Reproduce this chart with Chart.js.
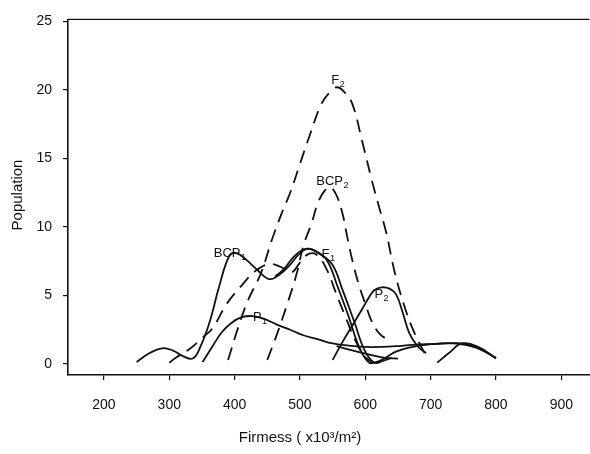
<!DOCTYPE html>
<html>
<head>
<meta charset="utf-8">
<script src="https://cdn.jsdelivr.net/npm/chart.js@4/dist/chart.umd.min.js"></script>
<style>
  html, body { margin: 0; padding: 0; background: #fff; }
</style>
</head>
<body>
<canvas id="chart" width="590" height="454"></canvas>
<script>
// axis ticks
const xTicks = [200, 300, 400, 500, 600, 700, 800, 900];
const yTicks = [0, 5, 10, 15, 20, 25];

// F2 (dashed)
const f2X = [390, 405, 420, 440, 458, 472, 485, 500, 515, 533, 547, 557, 567, 580, 595, 610, 622, 632, 645, 660, 675, 693];
const f2Y = [0.3, 2.6, 4.6, 6.6, 9.2, 11.0, 12.5, 14.6, 16.7, 19.0, 19.9, 20.2, 19.9, 19.0, 16.3, 13.4, 11.3, 9.6, 6.7, 4.2, 2.3, 0.6];

// BCP2 (dashed)
const bcp2X = [450, 465, 480, 495, 505, 518, 527, 537, 546, 556, 565, 571, 580, 590, 600, 610, 622, 637];
const bcp2Y = [0.3, 2.2, 4.3, 6.6, 8.6, 10.3, 11.7, 12.6, 12.9, 12.3, 11.0, 9.6, 7.6, 5.8, 4.4, 3.1, 2.2, 1.7];

// unlabelled dashed curve under BCP1
const dashX = [300, 311, 334, 350, 366, 388, 412, 432, 453, 470, 487, 500, 512, 525, 540, 555, 570, 585, 600, 612];
const dashY = [0.1, 0.5, 1.2, 1.9, 2.6, 4.4, 5.8, 6.8, 7.3, 7.1, 6.7, 7.4, 8.0, 8.0, 7.0, 5.2, 3.4, 1.7, 0.5, 0.1];

// BCP1 (solid)
const bcp1X = [250, 270, 289, 305, 320, 336, 348, 362, 376, 392, 403, 418, 434, 453, 468, 484, 498, 510, 522, 541, 558, 575, 591, 606, 620, 632, 647, 667, 700, 740, 770, 800];
const bcp1Y = [0.15, 0.8, 1.15, 1.0, 0.6, 0.4, 1.3, 3.1, 5.6, 7.9, 8.1, 7.6, 6.9, 6.2, 6.5, 7.2, 8.0, 8.4, 8.3, 7.6, 5.6, 3.4, 1.2, 0.1, 0.2, 0.5, 0.9, 1.2, 1.45, 1.5, 1.2, 0.45];

// F1 (solid), second piece after the gap
const f1X = [462, 475, 490, 503, 515, 528, 549, 566, 583, 599, 614, 628, 640, 660, 710, 728, 748, 775, 800];
const f1Y = [6.4, 6.9, 7.8, 8.3, 8.4, 8.1, 7.3, 5.3, 3.1, 1.0, 0.1, 0.25, 0.45, null, 0.1, 0.8, 1.5, 1.2, 0.4];

// P1 (solid) and its lower branch
const p1X = [351, 365, 380, 395, 410, 427, 445, 464, 485, 505, 528, 550, 575, 600, 625, 647, 672, 700, 748, 775, 800];
const p1Y = [0.15, 1.2, 2.3, 3.0, 3.4, 3.5, 3.3, 2.9, 2.5, 2.1, 1.8, 1.5, 1.35, 1.25, 1.25, 1.3, 1.4, 1.45, 1.5, 1.1, 0.45];
const p1BranchX = [556, 580, 605, 630, 650];
const p1BranchY = [1.3, 1.0, 0.7, 0.45, 0.4];

// P2 (solid)
const p2X = [550, 565, 580, 595, 606, 614, 625, 637, 647, 657, 667, 680, 693];
const p2Y = [0.3, 1.6, 2.8, 4.0, 4.9, 5.4, 5.6, 5.5, 5.1, 3.8, 2.3, 1.3, 0.8];

// curve names written next to the lines
const curveLabels = [
  {text: 'F', sub: '2', x: 548, y: 20.7},
  {text: 'BCP', sub: '2', x: 525, y: 13.3},
  {text: 'BCP', sub: '1', x: 368, y: 8.1},
  {text: 'F', sub: '1', x: 533, y: 8.0},
  {text: 'P', sub: '2', x: 614, y: 5.1},
  {text: 'P', sub: '1', x: 428, y: 3.4},
];

const FONT = '"Liberation Sans", Arial, sans-serif';
const INK = '#111';

const pts = (xs, ys) => xs.map((x, i) => ({x, y: ys[i]}));

function curve(label, xs, ys, dashed) {
  return {
    label,
    data: pts(xs, ys),
    showLine: true,
    borderColor: INK,
    borderWidth: 1.8,
    borderDash: dashed ? [13, 8] : [],
    pointRadius: 0,
    tension: 0.4,
    fill: false,
  };
}

const labelPlugin = {
  id: 'curveLabels',
  afterDatasetsDraw(chart) {
    const {ctx, scales: {x, y}} = chart;
    ctx.save();
    ctx.fillStyle = INK;
    ctx.textBaseline = 'middle';
    curveLabels.forEach(l => {
      const px = x.getPixelForValue(l.x);
      const py = y.getPixelForValue(l.y);
      ctx.font = '13px ' + FONT;
      ctx.fillText(l.text, px, py);
      const w = ctx.measureText(l.text).width;
      ctx.font = '9px ' + FONT;
      ctx.fillText(l.sub, px + w + 0.5, py + 4);
    });
    ctx.restore();
  }
};

// top frame line and axis titles
const framePlugin = {
  id: 'frame',
  afterDraw(chart) {
    const {ctx, chartArea: a} = chart;
    ctx.save();
    ctx.strokeStyle = INK;
    ctx.lineWidth = 1.4;
    ctx.beginPath();
    ctx.moveTo(a.left, a.top);
    ctx.lineTo(a.right, a.top);
    ctx.stroke();

    ctx.fillStyle = INK;
    ctx.font = '15px ' + FONT;
    ctx.textAlign = 'center';
    ctx.textBaseline = 'middle';
    ctx.fillText('Firmess ( x10\u00b3/m\u00b2)', 300, 438);

    ctx.translate(18, 195);
    ctx.rotate(-Math.PI / 2);
    ctx.fillText('Population', 0, 0);
    ctx.restore();
  }
};

const axisGrid = {drawOnChartArea: false, drawTicks: true, tickLength: 5, color: INK, lineWidth: 1.2};
const axisBorder = {display: true, color: INK, width: 1.6};

new Chart(document.getElementById('chart'), {
  type: 'scatter',
  data: {
    datasets: [
      curve('F2', f2X, f2Y, true),
      curve('BCP2', bcp2X, bcp2Y, true),
      curve('BCP1 dashed', dashX, dashY, true),
      curve('BCP1', bcp1X, bcp1Y, false),
      curve('F1', f1X, f1Y, false),
      curve('P1', p1X, p1Y, false),
      curve('P1 branch', p1BranchX, p1BranchY, false),
      curve('P2', p2X, p2Y, false),
    ]
  },
  options: {
    responsive: false,
    animation: false,
    devicePixelRatio: 1,
    layout: {padding: {top: 12, left: 0, right: 0, bottom: 0}},
    plugins: {legend: {display: false}, tooltip: {enabled: false}},
    scales: {
      x: {
        type: 'linear',
        min: 145,
        max: 943,
        afterBuildTicks: s => { s.ticks = xTicks.map(v => ({value: v})); },
        afterFit: s => { s.height = 79; },
        grid: axisGrid,
        border: axisBorder,
        ticks: {color: INK, font: {family: FONT, size: 14}, padding: 17, maxRotation: 0, autoSkip: false},
      },
      y: {
        min: -0.8,
        max: 25.15,
        afterBuildTicks: s => { s.ticks = yTicks.map(v => ({value: v})); },
        afterFit: s => { s.width = 68; },
        grid: axisGrid,
        border: axisBorder,
        ticks: {color: INK, font: {family: FONT, size: 14}, padding: 11},
      },
    },
  },
  plugins: [labelPlugin, framePlugin],
});
</script>
</body>
</html>
